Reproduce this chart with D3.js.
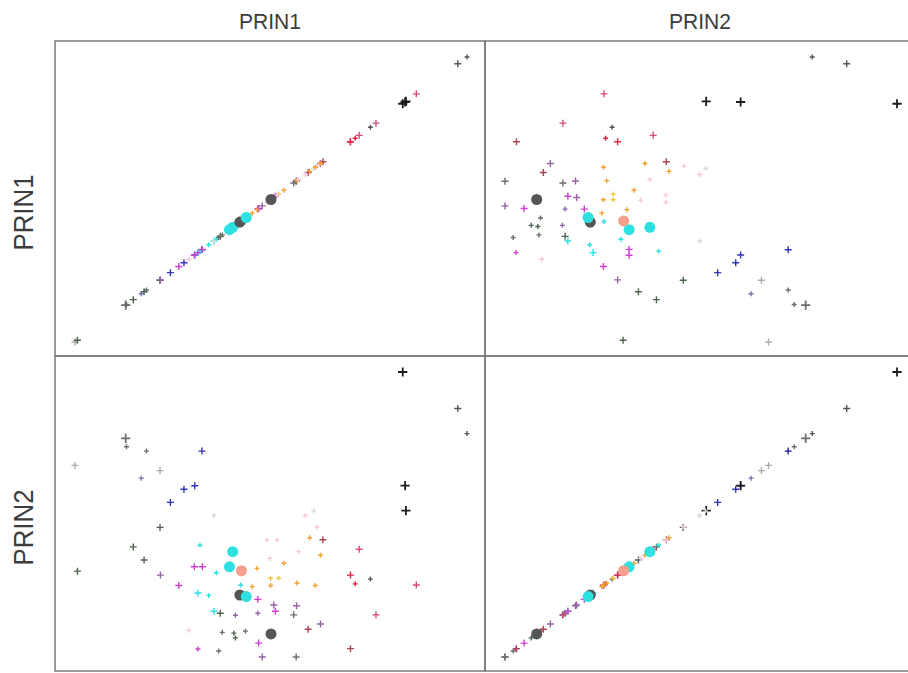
<!DOCTYPE html>
<html>
<head>
<meta charset="utf-8">
<script src="https://cdn.jsdelivr.net/npm/d3@7/dist/d3.min.js"></script>
<style>
body { margin: 0; background: #fff; }
svg { display: block; }
</style>
</head>
<body>
<div id="chart"></div>
<script>
// variables of the matrix
var vars = ["PRIN1", "PRIN2"];

// scores
var prin1 = [4.29, 5.67, 5.90, -2.65, -2.63, -2.13, -0.74, -3.92, -1.79, -2.26,
             -1.19, -0.92, -1.53, 4.35, 4.37, -1.79, -2.46, -2.19, -3.86, -0.79,
             0.03, -0.05, -0.93, -0.73, -1.78, -1.32, -0.38, 0.25, -0.84, -0.57,
             0.21, 0.37, 0.23, 0.66, -0.44, -0.28, 0.10, 0.66, 1.06, 1.10,
             1.63, 1.56, 0.99, 0.68, 0.77, 1.62, -0.84, -1.07, -0.23, 0.06,
             0.10, 0.35, -0.32, 1.92, 2.23, 2.98, 3.62, 4.63, 2.98, 3.10,
             3.48, 3.20, 2.29, 1.96, 2.23, 1.31, 0.98, 1.18, 0.98, 1.64,
             0.52, 0.64, 0.89, 1.14, 2.06, 1.85, 2.14, -0.44, 2.10, 1.68, 0.96];
var prin2 = [5.64, 4.72, 4.09, 3.97, 3.76, 3.65, 3.65, 3.29, 3.16, 2.97,
             2.69, 2.78, 2.36, 2.78, 2.15, 1.73, 1.24, 0.91, 0.63, 1.28,
             1.12, 0.74, 0.74, 0.74, 0.53, 0.27, 0.59, 0.64, 0.08, 0.02,
             0.03, -0.01, 0.28, -0.08, -0.38, -0.43, -0.48, -0.43, -0.22, -0.38,
             -0.24, -0.47, -0.95, -1.18, -1.53, -1.53, -1.33, -0.86, -0.91, -0.93,
             -1.05, -0.88, -1.38, -0.83, -0.70, -1.32, -0.47, 0.28, 0.53, 0.31,
             0.43, 1.18, 1.42, 1.47, 1.03, 0.83, 0.45, 0.45, 0.27, 0.33,
             0.24, 0.70, 1.41, 1.41, 2.14, 2.03, 1.74, 2.03, 0.27, 1.12, 0.95];
// group of each observation
var groups = ["k", "d", "d", "g", "g", "g", "b", "lg", "lg", "sl",
              "b", "b", "b", "k", "k", "o", "o", "o", "o", "c",
              "c", "c", "m", "m", "p", "m", "c", "s", "c", "c",
              "d", "c", "c", "m", "c", "o", "p", "p", "p", "m",
              "p", "g", "d", "m", "p", "g", "m", "f", "g", "o",
              "o", "g", "g", "rb", "p", "rb", "ro", "ro", "r", "r",
              "d", "ro", "rb", "or", "or", "or", "y", "y", "or", "or",
              "or", "or", "f", "f", "fg", "f", "f", "fg", "or", "f", "f"];
// weight class of each observation (4 = highlighted)
var weights = [3, 2, 1, 3, 1, 1, 2, 2, 2, 1,
               2, 2, 2, 3, 3, 2, 2, 2, 2, 1,
               4, 4, 2, 2, 2, 2, 1, 4, 2, 1,
               4, 4, 1, 2, 2, 2, 1, 1, 2, 2,
               2, 2, 4, 2, 2, 2, 1, 1, 1, 1,
               1, 1, 1, 2, 2, 2, 2, 2, 2, 1,
               1, 2, 2, 1, 1, 1, 1, 1, 1, 1,
               1, 1, 1, 1, 1, 1, 1, 1, 1, 1, 1];

var groupKeys = ["k", "d", "g", "lg", "o", "b", "sl", "c", "m", "p", "s", "r", "rb", "ro", "or", "y", "f", "fg"];
var groupColors = ["#1c1c1c", "#555555", "#6e6e6e", "#acacac", "#4f6450", "#3434b8", "#7474b4", "#2ee0e0",
                   "#d040d0", "#9464a4", "#f4a08c", "#e02444", "#b04454", "#d84c78", "#f0a434", "#f0c844",
                   "#f6cadb", "#dadada"];

var data = prin1.map(function(v, i) {
    return { PRIN1: v, PRIN2: prin2[i], group: groups[i], weight: weights[i] };
});

var color = d3.scaleOrdinal().domain(groupKeys).range(groupColors);
var arm = d3.scaleOrdinal().domain([1, 2, 3]).range([2.5, 3.5, 4.6]);

var w = 908, h = 673;
var padLeft = 55, padTop = 41;
var cellW = 430, cellH = 315;

var svg = d3.select("#chart")
            .append("svg")
            .attr("width", w)
            .attr("height", h);

// one scale per variable for each direction
var xScale = {}, yScale = {};
vars.forEach(function(v) {
    var ext = d3.extent(data, function(d) { return d[v]; });
    xScale[v] = d3.scaleLinear().domain(ext).range([20, cellW - 18]);
    yScale[v] = d3.scaleLinear().domain(ext).range([cellH - 14, 16]);
});

var cells = [];
vars.forEach(function(yv, i) {
    vars.forEach(function(xv, j) {
        cells.push({ row: i, col: j, x: xv, y: yv });
    });
});

var cell = svg.selectAll("g.cell")
    .data(cells)
    .enter()
    .append("g")
    .attr("class", "cell")
    .attr("transform", function(c) {
        return "translate(" + (padLeft + c.col * cellW) + "," + (padTop + c.row * cellH) + ")";
    });

cell.append("rect")
    .attr("width", cellW)
    .attr("height", cellH)
    .style("fill", "none")
    .style("stroke", "#7a7a7a")
    .style("stroke-width", 1.5);

cell.each(function(c) {
    var g = d3.select(this);
    var sx = xScale[c.x], sy = yScale[c.y];

    // plus markers
    g.selectAll("path.pt")
        .data(data.filter(function(d) { return d.weight < 4; }))
        .enter()
        .append("path")
        .attr("class", "pt")
        .attr("transform", function(d) { return "translate(" + sx(d[c.x]) + "," + sy(d[c.y]) + ")"; })
        .attr("d", function(d) {
            var a = arm(d.weight);
            return "M" + (-a) + ",0H" + a + "M0," + (-a) + "V" + a;
        })
        .style("fill", "none")
        .style("stroke", function(d) { return color(d.group); })
        .style("stroke-width", function(d) { return d.weight == 3 ? 1.8 : 1.4; });

    // highlighted observations
    g.selectAll("circle")
        .data(data.filter(function(d) { return d.weight == 4; }))
        .enter()
        .append("circle")
        .attr("cx", function(d) { return sx(d[c.x]); })
        .attr("cy", function(d) { return sy(d[c.y]); })
        .attr("r", 5.5)
        .style("fill", function(d) { return color(d.group); });
});

// column titles
svg.selectAll("text.col")
    .data(vars)
    .enter()
    .append("text")
    .attr("class", "col")
    .attr("x", function(v, j) { return padLeft + j * cellW + cellW / 2; })
    .attr("y", 29)
    .attr("text-anchor", "middle")
    .attr("textLength", 62)
    .attr("lengthAdjust", "spacingAndGlyphs")
    .style("font-family", "Liberation Sans, Arial, sans-serif")
    .style("font-size", "22px")
    .style("fill", "#3c3c3c")
    .text(function(v) { return v; });

// row titles
svg.selectAll("text.row")
    .data(vars)
    .enter()
    .append("text")
    .attr("class", "row")
    .attr("transform", function(v, i) {
        return "translate(33," + (padTop + i * cellH + cellH / 2 + 14) + ") rotate(-90)";
    })
    .attr("text-anchor", "middle")
    .attr("textLength", 76)
    .attr("lengthAdjust", "spacingAndGlyphs")
    .style("font-family", "Liberation Sans, Arial, sans-serif")
    .style("font-size", "28px")
    .style("fill", "#3c3c3c")
    .text(function(v) { return v; });
</script>
</body>
</html>
